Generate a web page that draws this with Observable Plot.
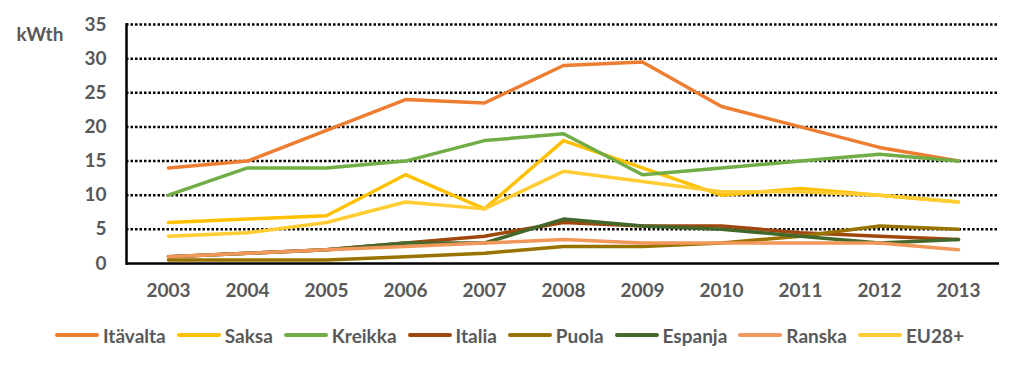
<!DOCTYPE html>
<html>
<head>
<meta charset="utf-8">
<script src="https://cdn.jsdelivr.net/npm/d3@7"></script>
<script src="https://cdn.jsdelivr.net/npm/@observablehq/plot@0.6"></script>
<style>
  body { margin: 0; background: #fff; font-family: Lato, "Open Sans", sans-serif; }
  #chart { width: 1022px; }
  #legend { display: flex; justify-content: center; align-items: center; height: 46px; margin-left: -4px;
    font: bold 19px Lato, sans-serif; color: #595959; }
  .item { display: flex; align-items: center; margin: 0 5px; }
  .item svg { margin-right: 3px; }
</style>
</head>
<body>
<div id="chart"></div>
<script>
const years = ["2003","2004","2005","2006","2007","2008","2009","2010","2011","2012","2013"];
const seriesNames = ["Itävalta","Saksa","Kreikka","Italia","Puola","Espanja","Ranska","EU28+"];
const seriesColors = ["#ED7D31","#FFC000","#70AD47","#9E480E","#997300","#43682B","#F1975A","#FFCD33"];
const itavalta = [14, 15, 19.5, 24, 23.5, 29, 29.5, 23, 20, 17, 15];
const saksa    = [6, 6.5, 7, 13, 8, 18, 14, 10, 11, 10, 9];
const kreikka  = [10, 14, 14, 15, 18, 19, 13, 14, 15, 16, 15];
const italia   = [1, 1.5, 2, 3, 4, 6, 5.5, 5.5, 4.5, 4, 3.5];
const puola    = [0.5, 0.5, 0.5, 1, 1.5, 2.5, 2.5, 3, 4, 5.5, 5];
const espanja  = [1, 1.5, 2, 3, 3, 6.5, 5.5, 5, 4, 3, 3.5];
const ranska   = [1, 1.5, 2, 2.5, 3, 3.5, 3, 3, 3, 3, 2];
const eu28     = [4, 4.5, 6, 9, 8, 13.5, 12, 10.5, 10.5, 10, 9];
const yTicks = [0, 5, 10, 15, 20, 25, 30, 35];
const unitLabel = "kWth";

const seriesValues = [itavalta, saksa, kreikka, italia, puola, espanja, ranska, eu28];
const data = [];
seriesNames.forEach((name, i) => {
  years.forEach((yr, j) => data.push({series: name, year: yr, value: seriesValues[i][j]}));
});

const tickFont = {fontSize: 19, fontWeight: "bold", fill: "#595959"};

const chart = Plot.plot({
  width: 1022,
  height: 312,
  marginTop: 24,
  marginBottom: 49,
  marginLeft: 126,
  marginRight: 23,
  style: {fontFamily: "Lato, sans-serif", background: "#fff"},
  x: {type: "point", domain: years, padding: 0.5, label: null},
  y: {domain: [0, 35], ticks: yTicks, label: null},
  color: {domain: seriesNames, range: seriesColors},
  marks: [
    Plot.gridY(yTicks.filter(d => d > 0), {stroke: "#000", strokeOpacity: 1, strokeWidth: 2.5, strokeDasharray: "2.5,2"}),
    Plot.axisY({ticks: yTicks, tickSize: 0, tickPadding: 20, label: null, ...tickFont}),
    Plot.axisX({tickSize: 0, tickPadding: 20, label: null, ...tickFont}),
    Plot.lineY(data, {x: "year", y: "value", z: "series", stroke: "series", strokeWidth: 3.5, strokeLinecap: "round", strokeLinejoin: "round"}),
    Plot.ruleY([0], {stroke: "#000", strokeWidth: 2.5}),
    Plot.frame({anchor: "left", stroke: "#000", strokeWidth: 2.5}),
    Plot.text([unitLabel], {frameAnchor: "top-left", dx: -110, dy: 3, textAnchor: "start", fontSize: 19, fontWeight: "bold", fill: "#595959"})
  ]
});
document.getElementById("chart").appendChild(chart);

const legend = document.createElement("div");
legend.id = "legend";
seriesNames.forEach((name, i) => {
  const item = document.createElement("div");
  item.className = "item";
  item.innerHTML = `<svg width="46" height="8"><line x1="3" y1="4" x2="43" y2="4" stroke="${seriesColors[i]}" stroke-width="4" stroke-linecap="round"/></svg><span>${name}</span>`;
  legend.appendChild(item);
});
document.body.appendChild(legend);
</script>
</body>
</html>
